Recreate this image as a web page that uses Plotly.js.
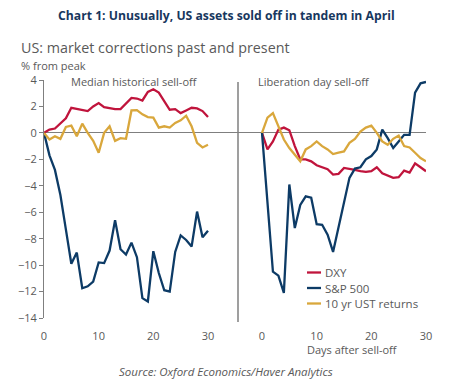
<!DOCTYPE html>
<html>
<head>
<meta charset="utf-8">
<script src="https://cdn.plot.ly/plotly-3.0.1.min.js"></script>
<style>html,body{margin:0;padding:0;background:#fff;}#chart{width:456px;height:384px;}</style>
</head>
<body>
<div id="chart"></div>
<script>
// ---- data ----
const days = [0,1,2,3,4,5,6,7,8,9,10,11,12,13,14,15,16,17,18,19,20,21,22,23,24,25,26,27,28,29,30];
const seriesNames = ["DXY", "S&P 500", "10 yr UST returns"];
const xTicks = [0, 10, 20, 30];
const yTicks = [-14, -12, -10, -8, -6, -4, -2, 0, 2, 4];

// Median historical sell-off
const histDXY = [0,0.25,0.33,0.75,1.1,1.9,1.8,1.7,1.65,2.0,2.25,1.95,1.85,1.8,1.8,2.2,2.65,2.6,2.45,3.1,3.3,3.05,2.4,1.75,1.8,1.5,1.7,1.9,1.85,1.65,1.2];
const histSP = [0,-1.7,-2.8,-4.7,-7.3,-9.9,-9.05,-11.75,-11.6,-11.25,-9.8,-9.85,-8.9,-6.6,-8.8,-9.2,-8.3,-9.4,-12.5,-12.75,-8.95,-10.6,-11.9,-12.0,-9.0,-7.75,-8.1,-8.6,-5.95,-7.9,-7.4];
const histUST = [0,-0.5,-0.25,-0.45,0.45,0.55,-0.25,0.7,0,-0.6,-1.5,0,0.5,-0.6,-0.4,-0.45,1.7,1.72,1.4,1.2,1.15,0.4,0.5,0.4,0.75,0.95,1.3,0.5,-0.75,-1.1,-0.9];

// Liberation day sell-off
const libDXY = [0,-1.25,-0.65,0.25,0.4,0.2,-1.0,-2.0,-2.0,-2.15,-2.45,-2.6,-2.75,-3.15,-3.1,-2.65,-2.7,-2.8,-2.9,-2.95,-2.9,-2.6,-3.05,-3.25,-3.4,-3.35,-2.85,-3.0,-2.3,-2.6,-2.9];
const libSP = [0,-5.0,-10.5,-10.8,-12.1,-3.9,-7.2,-5.45,-4.8,-4.9,-6.9,-6.95,-7.7,-9.0,-7.2,-5.2,-3.4,-2.7,-2.6,-2.0,-1.75,-1.25,0.25,-0.4,-1.15,-0.65,-0.15,-0.15,3.05,3.75,3.85];
const libUST = [0,1.15,1.5,0.5,-0.5,-1.15,-1.65,-2.15,-1.25,-1.0,-0.65,-1.0,-1.25,-1.6,-1.5,-1.4,-0.75,-0.45,0.1,0.4,0.55,0,-0.65,-0.9,-0.45,-0.2,-1.0,-1.1,-1.5,-1.9,-2.15];

// ---- styling ----
const colors = ["#c0143c", "#0d3b66", "#d9a73c"];
const grey = "#595959";
const axisGrey = "#7f7f7f";
const W = 456, H = 384;
const px = v => v / W;
const py = v => 1 - v / H;
const pxPerDay = (208 - 44) / 30;

const yDom = [py(318), py(80)];
const yRange = [-14, 4];
const zeroPos = yDom[0] + (0 - yRange[0]) / (yRange[1] - yRange[0]) * (yDom[1] - yDom[0]);
const xRange1 = [0, (238 - 44) / pxPerDay];
const xRange2 = [-(262 - 238) / pxPerDay, 30];

function mk(y, i, xa, show) {
  return {x: days, y: y, type: "scatter", mode: "lines", name: seriesNames[i],
    xaxis: xa, yaxis: "y", showlegend: show, legendrank: i + 1,
    line: {color: colors[i], width: 2.3}, hoverinfo: "skip"};
}
const traces = [
  mk(histDXY, 0, "x", false), mk(histSP, 1, "x", false), mk(histUST, 2, "x", false),
  mk(libDXY, 0, "x2", true), mk(libSP, 1, "x2", true), mk(libUST, 2, "x2", true)
];

const tickFont = {family: "Open Sans", size: 11, color: grey};
const layout = {
  width: W, height: H,
  margin: {l: 0, r: 0, t: 0, b: 0},
  paper_bgcolor: "#fff", plot_bgcolor: "rgba(0,0,0,0)",
  font: {family: "Open Sans", color: grey, size: 11},
  showlegend: true,
  legend: {x: px(285), y: py(258), xanchor: "left", yanchor: "top", bgcolor: "rgba(0,0,0,0)",
           font: {family: "Open Sans", size: 11.5, color: grey}, traceorder: "normal"},
  xaxis: {domain: [px(44), px(238)], range: xRange1, anchor: "y", tickvals: xTicks, ticks: "",
          showgrid: false, zeroline: false, showline: false, tickfont: tickFont, ticklabelstandoff: 10},
  xaxis2: {domain: [px(238), px(426)], range: xRange2, anchor: "y", tickvals: xTicks, ticks: "",
          showgrid: false, zeroline: false, showline: false, tickfont: tickFont, ticklabelstandoff: 10},
  xaxis3: {overlaying: "x", range: xRange1, anchor: "free", position: zeroPos, side: "bottom",
          tickvals: [10, 20, 30], ticks: "outside", ticklen: 3, tickcolor: axisGrey, showticklabels: false,
          showgrid: false, zeroline: false, showline: false},
  xaxis4: {overlaying: "x2", range: xRange2, anchor: "free", position: zeroPos, side: "bottom",
          tickvals: [10, 20, 30], ticks: "outside", ticklen: 3, tickcolor: axisGrey, showticklabels: false,
          showgrid: false, zeroline: false, showline: false},
  yaxis: {domain: yDom, range: yRange, anchor: "x", tickvals: yTicks, ticks: "outside", ticklen: 4,
          tickcolor: axisGrey, showline: true, linecolor: axisGrey, linewidth: 1,
          showgrid: false, zeroline: true, zerolinecolor: axisGrey, zerolinewidth: 1, tickfont: tickFont},
  shapes: [{type: "line", xref: "paper", yref: "paper", x0: px(238), x1: px(238), y0: py(322), y1: py(82),
            line: {color: axisGrey, width: 1.5}}],
  annotations: [
    {text: "<b>Chart 1: Unusually, US assets sold off in tandem in April</b>", xref: "paper", yref: "paper",
     x: px(226), y: py(16), xanchor: "center", yanchor: "middle", showarrow: false,
     font: {family: "Open Sans", size: 12.2, color: "#17375e"}},
    {text: "US: market corrections past and present", xref: "paper", yref: "paper",
     x: px(19), y: py(47), xanchor: "left", yanchor: "middle", showarrow: false,
     font: {family: "Open Sans", size: 14.3, color: grey}},
    {text: "% from peak", xref: "paper", yref: "paper", x: px(19), y: py(65), xanchor: "left", yanchor: "middle",
     showarrow: false, font: {family: "Open Sans", size: 11, color: grey}},
    {text: "Median historical sell-off", xref: "paper", yref: "paper", x: px(69), y: py(81), xanchor: "left",
     yanchor: "middle", showarrow: false, font: {family: "Open Sans", size: 11, color: grey}},
    {text: "Liberation day sell-off", xref: "paper", yref: "paper", x: px(256), y: py(81), xanchor: "left",
     yanchor: "middle", showarrow: false, font: {family: "Open Sans", size: 11, color: grey}},
    {text: "Days after sell-off", xref: "paper", yref: "paper", x: px(305), y: py(349), xanchor: "left",
     yanchor: "middle", showarrow: false, font: {family: "Open Sans", size: 11, color: grey}},
    {text: "<i>Source: Oxford Economics/Haver Analytics</i>", xref: "paper", yref: "paper", x: px(226), y: py(371),
     xanchor: "center", yanchor: "middle", showarrow: false, font: {family: "Open Sans", size: 11.5, color: grey}}
  ]
};

Plotly.newPlot("chart", traces, layout, {staticPlot: true, displayModeBar: false}).then(function () {
  // shorten the legend line samples to match the reference's short swatches
  document.querySelectorAll("#chart .legend .legendlines path").forEach(function (p) {
    p.setAttribute("d", "M22,0h14");
  });
  // tighten legend row spacing to match the reference
  const items = document.querySelectorAll("#chart .legend .traces");
  if (items.length) {
    const m = /translate\(([-\d.]+),\s*([-\d.]+)\)/.exec(items[0].getAttribute("transform") || "");
    if (m) {
      const x0 = parseFloat(m[1]), y0 = parseFloat(m[2]);
      items.forEach(function (g, i) {
        g.setAttribute("transform", "translate(" + x0 + "," + (y0 + i * 15.5) + ")");
      });
    }
  }
});
</script>
</body>
</html>
